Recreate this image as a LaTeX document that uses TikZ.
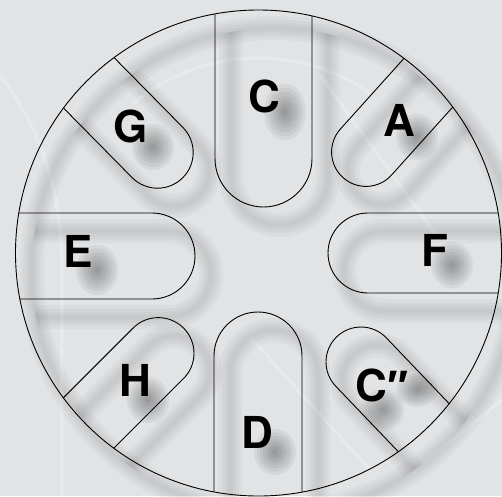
\documentclass[tikz,border=0pt]{standalone}
\usepackage{fontspec}
\setmainfont{TeX Gyre Heros}
\newfontfamily\primefont{Liberation Sans}
\usepackage{tikz}

\definecolor{drumbg}{RGB}{225,227,229}

% outline of the drum: rim and the eight tongues
\newcommand{\drumoutline}[1]{%
    \draw[#1] (0,0) circle[radius=243];
    \begin{scope}
        \clip (0,0) circle[radius=243];
        \foreach \cx/\cy/\ang/\rr in {5/94.5/90/48.5, 107.5/101/48/34.4, 109.5/0/0/40,
            102.5/-109/-46.3/35, -0.5/-103/-90/44, -100.2/-100.3/225/35.7,
            -106.5/-3/180/43, -101/100.5/134.6/35.7}{
            \draw[#1, shift={(\cx,\cy)}, rotate=\ang]
                (220,\rr) -- (0,\rr) arc[start angle=90, end angle=270, radius=\rr] -- (220,-\rr);
        }
    \end{scope}}

\begin{document}
\begin{tikzpicture}[x=1pt, y=1pt,
    key/.style={inner sep=0pt, font=\fontsize{44}{50}\selectfont\bfseries},
    ghost/.style={white, opacity=0.22, line width=3.5pt}]
    \useasboundingbox (-258.5,-243) rectangle (243.5,253);
    \fill[drumbg] (-258.5,-243) rectangle (243.5,253);

    % faint ghost lines in the background
    \draw[ghost] (0,0) ++(55:195) arc[start angle=55, end angle=130, radius=195];
    \draw[ghost] (-258.5,178) .. controls (-215,120) and (-198,60) .. (-196.5,-10) -- (-196.5,-243);
    \draw[ghost] (61.5,178) -- (181.5,13);
    \draw[ghost] (-8.5,-84) -- (111.5,-217);
    \draw[ghost] (164.5,-210) -- (243.5,-147);

    % soft shadow of the outline
    \begin{scope}[shift={(16,-18)}]
        \foreach \w in {24,17,11,5}{\drumoutline{line width=\w pt, black, opacity=0.026}}
    \end{scope}

    \drumoutline{line width=0.9pt, black}

    % blurred shadows of the note names
    \foreach \bx/\by/\bh in {26.5/141/1.35, 158.5/116/1.1, 193.5/-12/1.1, 124.5/-157/1.0,
        158.5/-137/0.8, 16.5/-199/1.1, -110.5/-147/1.1, -161.5/-17/1.2, -105.5/106/1.1}{
        \foreach \s in {3,6,...,21}{
            \fill[black, opacity=0.05] (\bx,\by) ellipse[x radius=\s, y radius=\s*\bh];
        }
    }

    % note names
    \foreach \x/\y/\t/\n in {5.5/157/C/c, 140.5/133/A/a, 176.5/3/F/f,
        123.5/-132/{C{\primefont\bfseries ″}}/cc, -1.5/-179/D/d, -123.5/-127/H/h,
        -180.5/2/E/e, -127.5/127/G/g}{
        \node[key] (key-\n) at (\x,\y) {\t};
    }
\end{tikzpicture}
\end{document}
